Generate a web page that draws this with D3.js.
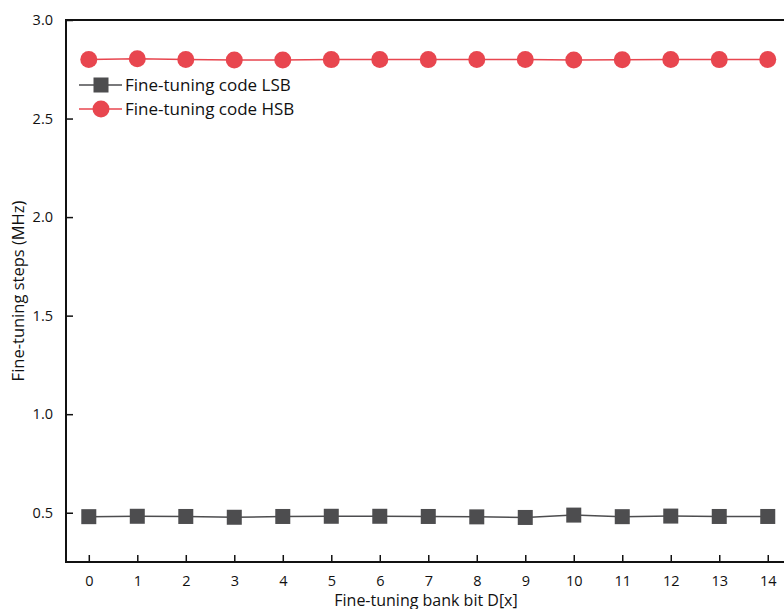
<!DOCTYPE html>
<html>
<head>
<meta charset="utf-8">
<script src="https://cdn.jsdelivr.net/npm/d3@7/dist/d3.min.js"></script>
<style>
  html, body { margin: 0; padding: 0; background: #fff; overflow: hidden; }
  svg { display: block; font-family: "Open Sans", "Noto Sans", sans-serif; }
</style>
</head>
<body>
<svg id="chart" width="784" height="609"></svg>
<script>
// Fine-tuning bank bit index
const bits = [0, 1, 2, 3, 4, 5, 6, 7, 8, 9, 10, 11, 12, 13, 14];
// Measured step size per bit (MHz)
const lsbSteps = [0.48, 0.482, 0.481, 0.477, 0.481, 0.482, 0.482, 0.481, 0.479, 0.476, 0.488, 0.48, 0.483, 0.481, 0.481];
const hsbSteps = [2.80, 2.803, 2.80, 2.797, 2.797, 2.799, 2.80, 2.799, 2.80, 2.80, 2.797, 2.798, 2.80, 2.799, 2.80];
const yTicks = [0.5, 1.0, 1.5, 2.0, 2.5, 3.0];
const seriesNames = ["Fine-tuning code LSB", "Fine-tuning code HSB"];

const svg = d3.select("#chart");
const m = { left: 66, top: 20, bottom: 562 };

const x = d3.scaleLinear().domain([-0.47, 14.5]).range([m.left, m.left + 726]);
const y = d3.scaleLinear().domain([0.25, 3.0]).range([m.bottom, m.top]);

const grey = "#4d4d4f", red = "#e8464f";

// Frame: left, bottom and top edges
const frame = svg.append("g").attr("stroke", "#111").attr("stroke-width", 2).attr("fill", "none");
frame.append("line").attr("x1", m.left).attr("x2", m.left).attr("y1", m.top).attr("y2", m.bottom);
frame.append("line").attr("x1", m.left - 1).attr("x2", 784).attr("y1", m.bottom).attr("y2", m.bottom);
frame.append("line").attr("x1", m.left - 1).attr("x2", 784).attr("y1", m.top).attr("y2", m.top);

// Axes with inward ticks
const xAxis = svg.append("g").attr("transform", `translate(0,${m.bottom})`)
  .call(d3.axisBottom(x).tickValues(bits).tickFormat(d3.format("d")).tickSizeInner(-7).tickSizeOuter(0).tickPadding(14));
const yAxis = svg.append("g").attr("transform", `translate(${m.left},0)`)
  .call(d3.axisLeft(y).tickValues(yTicks).tickFormat(d3.format(".1f")).tickSizeInner(-7).tickSizeOuter(0).tickPadding(13));
[xAxis, yAxis].forEach(a => {
  a.select(".domain").remove();
  a.selectAll(".tick line").attr("stroke", "#111").attr("stroke-width", 1.5);
  a.selectAll(".tick text").attr("fill", "#111").style("font-size", "14.5px").style("font-family", "'Open Sans', sans-serif");
});

// Axis titles
svg.append("text").attr("x", 426).attr("y", 606).attr("text-anchor", "middle")
  .attr("fill", "#111").style("font-size", "16px").text("Fine-tuning bank bit D[x]");
svg.append("text").attr("transform", `translate(24,${(m.top + m.bottom) / 2}) rotate(-90)`)
  .attr("text-anchor", "middle").attr("fill", "#111").style("font-size", "16.5px").text("Fine-tuning steps (MHz)");

const line = d3.line().x((d, i) => x(bits[i])).y(d => y(d));

// LSB series
svg.append("path").datum(lsbSteps).attr("d", line).attr("fill", "none").attr("stroke", grey).attr("stroke-width", 1.5);
svg.append("g").selectAll("rect").data(lsbSteps).join("rect")
  .attr("x", (d, i) => x(bits[i]) - 7.5).attr("y", d => y(d) - 7.5)
  .attr("width", 15).attr("height", 15).attr("fill", grey);

// HSB series
svg.append("path").datum(hsbSteps).attr("d", line).attr("fill", "none").attr("stroke", red).attr("stroke-width", 1.5);
svg.append("g").selectAll("circle").data(hsbSteps).join("circle")
  .attr("cx", (d, i) => x(bits[i])).attr("cy", d => y(d)).attr("r", 8.5).attr("fill", red);

// Legend
const legend = svg.append("g");
const rows = [{ name: seriesNames[0], color: grey, shape: "square" }, { name: seriesNames[1], color: red, shape: "circle" }];
rows.forEach((r, i) => {
  const cy = 85 + i * 24;
  legend.append("line").attr("x1", 79).attr("x2", 122).attr("y1", cy).attr("y2", cy)
    .attr("stroke", r.color).attr("stroke-width", 1.5);
  if (r.shape === "square") {
    legend.append("rect").attr("x", 101 - 7.5).attr("y", cy - 7.5).attr("width", 15).attr("height", 15).attr("fill", r.color);
  } else {
    legend.append("circle").attr("cx", 101).attr("cy", cy).attr("r", 8.5).attr("fill", r.color);
  }
  legend.append("text").attr("x", 125).attr("y", cy + 6).attr("fill", "#111")
    .style("font-size", "17px").text(r.name);
});
</script>
</body>
</html>
